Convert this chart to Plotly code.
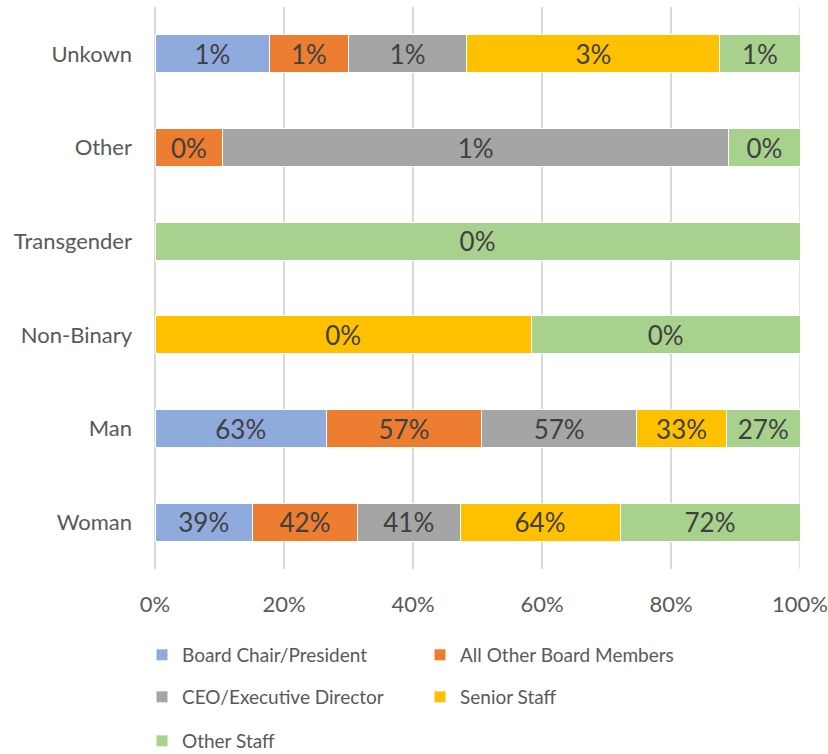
import plotly.graph_objects as go

# gender categories (bottom to top)
categories = ["Woman", "Man", "Non-Binary", "Transgender", "Other", "Unkown"]

# share of each role held by each gender (%)
board_chair = [39, 63, 0, 0, 0, 1.36]
other_board = [42, 57, 0, 0, 0.19, 0.93]
ceo = [41, 57, 0, 0, 1.42, 1.41]
senior_staff = [64, 33, 0.35, 0, 0, 3.0]
other_staff = [72, 27, 0.25, 0.3, 0.2, 0.95]

series = [
    ("Board Chair/President", board_chair, "#8FAADC", "legend"),
    ("All Other Board Members", other_board, "#ED7D31", "legend"),
    ("CEO/Executive Director", ceo, "#A5A5A5", "legend2"),
    ("Senior Staff", senior_staff, "#FFC000", "legend2"),
    ("Other Staff", other_staff, "#A9D18E", "legend3"),
]

FONT = "Lato"
GRID = "#D9D9D9"

fig = go.Figure()
for name, vals, color, leg in series:
    fig.add_trace(go.Bar(
        y=categories, x=vals, name=name, orientation="h",
        marker=dict(color=color, line=dict(color="white", width=1)),
        text=[f"{v:.0f}%" if v > 0 else "" for v in vals],
        texttemplate="%{text}",
        textposition="inside", insidetextanchor="middle",
        textfont=dict(family=FONT, size=26, color="#404040"),
        constraintext="none",
        legend=leg,
    ))

# gridline at the 100% edge (plotly drops grid at the range end)
fig.add_vline(x=100, line=dict(color=GRID, width=1.5), layer="below")

leg_common = dict(orientation="h", xref="container", x=142 / 828, xanchor="left",
                  yref="container", yanchor="middle", traceorder="normal",
                  font=dict(family=FONT, size=19, color="#595959"),
                  entrywidth=233, entrywidthmode="pixels", itemwidth=30,
                  itemclick=False, bgcolor="rgba(0,0,0,0)")

fig.update_layout(
    barmode="stack", barnorm="percent", bargap=0.595,
    width=828, height=754,
    margin=dict(l=155, r=28, t=7, b=185, autoexpand=False),
    plot_bgcolor="white", paper_bgcolor="white",
    font=dict(family=FONT, color="#595959"),
    xaxis=dict(range=[0, 100], tickvals=[0, 20, 40, 60, 80, 100],
               ticktext=["0%", "20%", "40%", "60%", "80%", "100%"],
               showgrid=True, gridcolor=GRID, gridwidth=1.5,
               zeroline=True, zerolinecolor=GRID, zerolinewidth=1.5,
               showline=False, ticks="", ticklabelstandoff=20,
               tickfont=dict(family=FONT, size=22, color="#595959")),
    yaxis=dict(showgrid=False, ticks="", ticklabelstandoff=22,
               tickfont=dict(family=FONT, size=22, color="#595959")),
    legend=dict(y=1 - 655 / 754, **leg_common),
    legend2=dict(y=1 - 697 / 754, **leg_common),
    legend3=dict(y=1 - 741 / 754, **leg_common),
    showlegend=True,
)

fig.write_html("out.html", config={"displayModeBar": False},
               post_script="document.body.style.margin='0';"
                           "document.body.style.overflow='hidden';")
